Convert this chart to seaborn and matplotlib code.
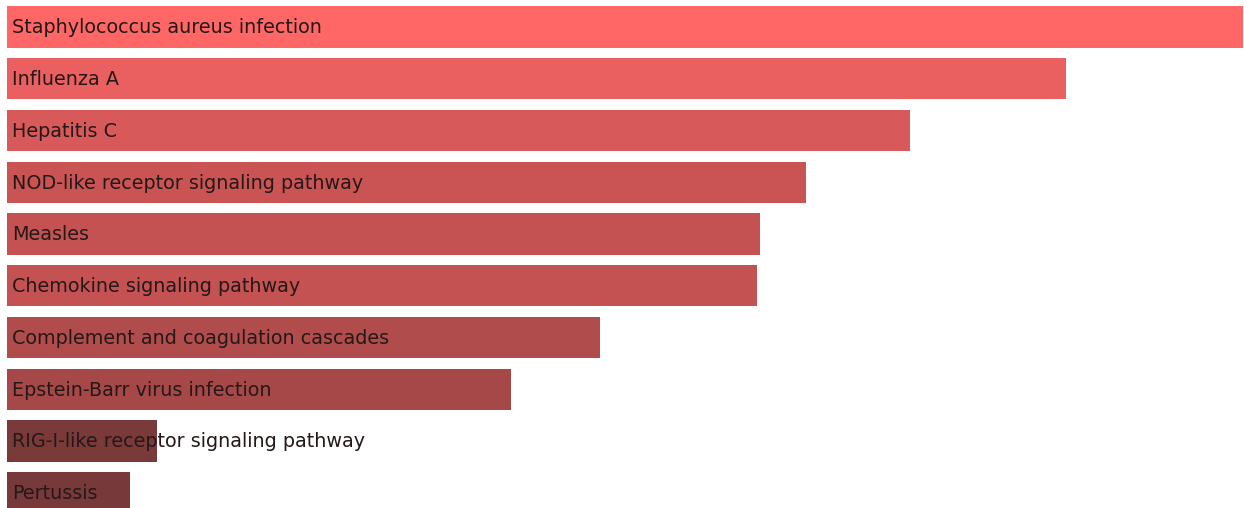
import matplotlib
matplotlib.use("Agg")
import matplotlib.pyplot as plt
import seaborn as sns
import pandas as pd
from matplotlib.colors import LinearSegmentedColormap
import matplotlib.transforms as mtransforms

pathways = [
    "Staphylococcus aureus infection",
    "Influenza A",
    "Hepatitis C",
    "NOD-like receptor signaling pathway",
    "Measles",
    "Chemokine signaling pathway",
    "Complement and coagulation cascades",
    "Epstein-Barr virus infection",
    "RIG-I-like receptor signaling pathway",
    "Pertussis",
]
scores = [12.36, 10.59, 9.03, 7.99, 7.53, 7.50, 5.93, 5.04, 1.50, 1.23]

df = pd.DataFrame({"pathway": pathways, "score": scores})

sns.set_theme(style="white")
plt.rcParams["font.family"] = ["DejaVu Sans"]

fig = plt.figure(figsize=(12.44, 5.08), dpi=100)
ax = fig.add_axes([7 / 1244, -0.0209, 1236 / 1244, 1.0187])

cmap = LinearSegmentedColormap.from_list("reds", ["#683434", "#ff6666"])
sns.barplot(data=df, y="pathway", x="score", hue="score", palette=cmap,
            hue_norm=(0, max(scores)), orient="h", width=0.8,
            legend=False, ax=ax, saturation=1, linewidth=0)

ax.set_xlim(0, max(scores))
ax.set_ylim(len(pathways) - 0.5, -0.5)
ax.axis("off")

offset = mtransforms.offset_copy(ax.transData, fig=fig, x=5, y=-1, units="dots")
for i, name in enumerate(pathways):
    ax.text(0, i, name, transform=offset, va="center", ha="left",
            fontsize=13.8, color="#241818")

fig.savefig("out.png", dpi=100)
